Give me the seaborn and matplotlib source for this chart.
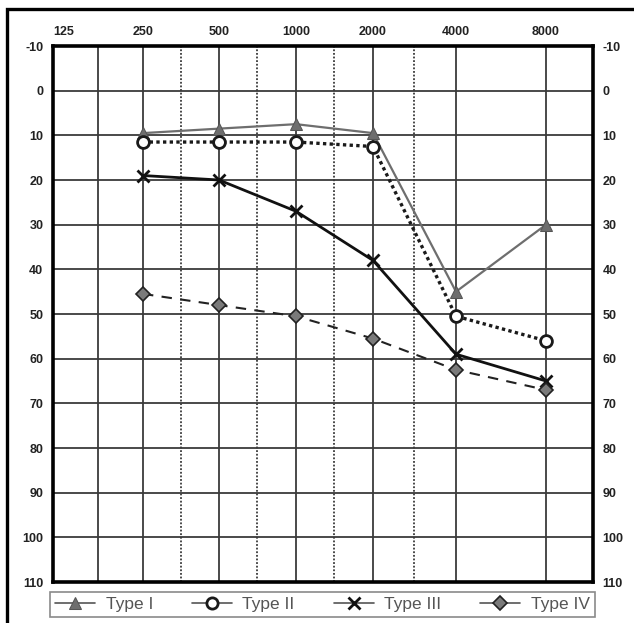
import copy
import numpy as np
import pandas as pd
import matplotlib
matplotlib.use("Agg")
import matplotlib.pyplot as plt
from matplotlib.patches import Rectangle
from matplotlib.ticker import NullLocator
import seaborn as sns

# fréquences (Hz) et seuils (dB HL)
freqs = [250, 500, 1000, 2000, 4000, 8000]
type_1 = [9.5, 8.5, 7.5, 9.5, 45, 30]
type_2 = [11.5, 11.5, 11.5, 12.5, 50.5, 56]
type_3 = [19, 20, 27, 38, 59, 65]
type_4 = [45.5, 48, 50.5, 55.5, 62.5, 67]

tick_freqs = [125, 250, 500, 1000, 2000, 4000, 8000]
db_ticks = list(range(-10, 111, 10))

# échelle "audiogramme" : octaves pas tout à fait régulières
oct_log = np.log2([62.5, 125, 250, 500, 1000, 2000, 4000, 8000, 16000])
oct_pos = np.array([-37, 53, 143, 219, 296, 373, 456, 546, 636], dtype=float)


def fwd(f):
    f = np.clip(np.asarray(f, dtype=float), 1e-6, None)
    return np.interp(np.log2(f), oct_log, oct_pos)


def inv(p):
    return 2 ** np.interp(np.asarray(p, dtype=float), oct_pos, oct_log)


df = pd.DataFrame({"freq": freqs, "Type I": type_1, "Type II": type_2,
                   "Type III": type_3, "Type IV": type_4})

sns.set_style("white")
plt.rcParams["font.family"] = ["Liberation Sans", "DejaVu Sans"]

fig = plt.figure(figsize=(6.34, 6.23), dpi=100)
ax = fig.add_axes([53 / 634, 1 - 582 / 623, 540 / 634, 536 / 623])
ax.set_xscale("function", functions=(fwd, inv))
ax.set_xlim(125, float(inv(593)))
ax.set_ylim(110, -10)

# grille
for f in [177, 250, 500, 1000, 2000, 4000, 8000]:
    ax.axvline(f, color="#3a3a3a", lw=1.3, zorder=1)
for f in [354, 707, 1414, 2828]:
    ax.axvline(f, color="#3a3a3a", lw=1.3, ls=(0, (1, 1)), zorder=1)
for d in db_ticks[1:-1]:
    ax.axhline(d, color="#3a3a3a", lw=1.3, zorder=1)

styles = {
    "Type I": dict(color="#6e6e6e", lw=1.6, ls="-", marker="^", ms=9,
                   mfc="#6e6e6e", mec="#555555"),
    "Type II": dict(color="#1a1a1a", lw=2.4, ls=(0, (1, 1)), marker="o", ms=8.5,
                    mfc="white", mec="#1a1a1a", mew=2),
    "Type III": dict(color="#111111", lw=2.0, ls="-", marker="x", ms=8.5,
                     mec="#111111", mew=2),
    "Type IV": dict(color="#222222", lw=1.5, ls=(0, (5, 4)), marker="D", ms=7,
                    mfc="#7a7a7a", mec="#222222", mew=1.2),
}

for name, st in styles.items():
    sns.lineplot(data=df, x="freq", y=name, ax=ax, estimator=None, sort=False,
                 label=name, zorder=3, **st)

for s in ax.spines.values():
    s.set_visible(True)
    s.set_color("black")
    s.set_linewidth(2.6)

ax.xaxis.tick_top()
ax.set_xticks(tick_freqs)
ax.set_xticklabels([str(f) for f in tick_freqs])
ax.xaxis.set_minor_locator(NullLocator())
ax.set_yticks(db_ticks)
ax.set_yticklabels([str(d) for d in db_ticks])
ax.tick_params(axis="x", length=0, pad=6, labelsize=9, labelcolor="#222222")
ax.tick_params(axis="y", length=0, pad=7, labelsize=9, labelcolor="#222222",
               left=True, right=True, labelleft=True, labelright=True)
for lab in ax.get_xticklabels() + ax.get_yticklabels():
    lab.set_fontweight("bold")
ax.get_xticklabels()[0].set_horizontalalignment("left")
ax.set_xlabel("")
ax.set_ylabel("")

# légende avec des traits pleins
handles, labels = ax.get_legend_handles_labels()
leg_handles = []
for h in handles:
    h2 = copy.copy(h)
    h2.set_linestyle("-")
    h2.set_linewidth(1.2)
    h2.set_color("#555555")
    h2.set_markersize(h.get_markersize() * 0.95)
    leg_handles.append(h2)
ax.legend(leg_handles, labels, ncol=4, loc="center", mode="expand",
          bbox_to_anchor=(50 / 634, 1 - 621 / 623, 545 / 634, 33 / 623),
          bbox_transform=fig.transFigure, fancybox=False, framealpha=1,
          edgecolor="#8a8a8a", fontsize=12.5, labelcolor="#555555",
          handlelength=2.3, handletextpad=0.6, columnspacing=1.5,
          borderaxespad=0, borderpad=0.3)
ax.get_legend().get_frame().set_linewidth(1.2)

# cadre extérieur (coupé à droite et en bas)
fig.add_artist(Rectangle((7 / 634, -0.2), 1.5, 1.2 - 8.5 / 623,
                         transform=fig.transFigure, fill=False,
                         edgecolor="black", lw=2.4))

fig.savefig("out.png", dpi=100)
